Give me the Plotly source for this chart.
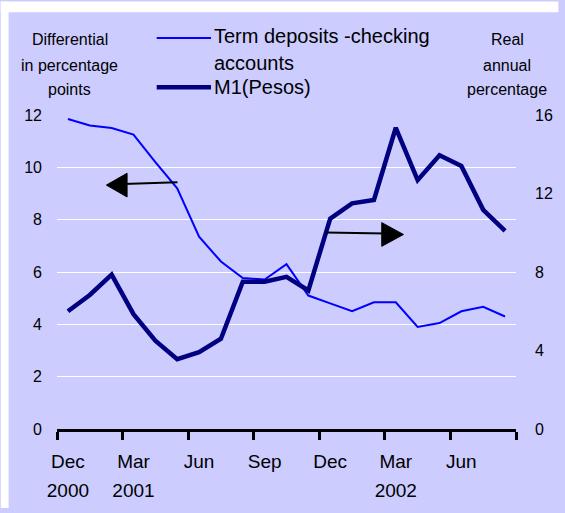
import plotly.graph_objects as go

# ---- data ----
months = ["Dec 2000", "Jan 2001", "Feb 2001", "Mar 2001", "Apr 2001", "May 2001", "Jun 2001",
          "Jul 2001", "Aug 2001", "Sep 2001", "Oct 2001", "Nov 2001", "Dec 2001", "Jan 2002",
          "Feb 2002", "Mar 2002", "Apr 2002", "May 2002", "Jun 2002", "Jul 2002", "Aug 2002"]
term_minus_checking = [11.85, 11.6, 11.5, 11.25, 10.2, 9.2, 7.35, 6.4, 5.77, 5.71, 6.3,
                       5.1, 4.8, 4.5, 4.84, 4.84, 3.9, 4.05, 4.5, 4.67, 4.3]
m1_pesos = [6.0, 6.83, 7.87, 5.85, 4.5, 3.56, 3.92, 4.6, 7.5, 7.5, 7.75,
            7.06, 10.72, 11.5, 11.67, 15.35, 12.68, 13.95, 13.4, 11.17, 10.1]
month_labels = ["Dec", "Mar", "Jun", "Sep", "Dec", "Mar", "Jun"]
month_pos = [0, 3, 6, 9, 12, 15, 18]
year_labels = ["2000", "2001", "2002"]
year_pos = [0, 3, 15]
left_ticks = [0, 2, 4, 6, 8, 10, 12]
right_ticks = [0, 4, 8, 12, 16]

idx = list(range(len(months)))
boundaries = [i - 0.5 for i in range(0, len(months) + 1, 3)]

W, H = 565, 513
L, R, T, B = 57, 522, 115, 433
FONT = "Liberation Sans, Arial, sans-serif"
BG = "#CCCCFF"


def px(x):
    return (x - L) / (R - L)


def py(y):
    return (B - y) / (B - T)


fig = go.Figure()
fig.add_trace(go.Scatter(x=idx, y=term_minus_checking, mode="lines",
                         line=dict(color="#0000FF", width=2),
                         name="Term deposits -checking accounts", showlegend=False,
                         xaxis="x", yaxis="y", hoverinfo="skip"))
fig.add_trace(go.Scatter(x=idx, y=m1_pesos, mode="lines",
                         line=dict(color="#000080", width=4.5),
                         name="M1(Pesos)", showlegend=False,
                         xaxis="x", yaxis="y2", hoverinfo="skip"))
# empty traces to register label axes
fig.add_trace(go.Scatter(x=[], y=[], xaxis="x2", yaxis="y", showlegend=False))
fig.add_trace(go.Scatter(x=[], y=[], xaxis="x3", yaxis="y", showlegend=False))

xr = [-0.5, len(months) - 0.5]
fig.update_layout(
    width=W, height=H, autosize=False,
    margin=dict(l=L, r=W - R, t=T, b=H - B),
    paper_bgcolor=BG, plot_bgcolor=BG,
    font=dict(family=FONT, color="black"),
    showlegend=False,
    dragmode=False,
    xaxis=dict(range=xr, tickmode="array", tickvals=boundaries, ticktext=[""] * len(boundaries),
               ticks="outside", ticklen=8, tickwidth=3, tickcolor="black",
               showline=True, linecolor="black", linewidth=3, fixedrange=True,
               showgrid=False, zeroline=False, showticklabels=False),
    xaxis2=dict(range=xr, overlaying="x", anchor="y", side="bottom", fixedrange=True,
                tickmode="array", tickvals=month_pos, ticktext=month_labels,
                ticks="", showline=False, showgrid=False, zeroline=False,
                tickfont=dict(size=19), ticklabelstandoff=19),
    xaxis3=dict(range=xr, overlaying="x", anchor="y", side="bottom", fixedrange=True,
                tickmode="array", tickvals=year_pos, ticktext=year_labels,
                ticks="", showline=False, showgrid=False, zeroline=False,
                tickfont=dict(size=19), ticklabelstandoff=48),
    yaxis=dict(range=[0, 12], tickmode="array", tickvals=left_ticks, fixedrange=True,
               showgrid=True, gridcolor="white", gridwidth=1, zeroline=False,
               ticks="", showline=False, tickfont=dict(size=16), ticklabelstandoff=14),
    yaxis2=dict(range=[0, 16], tickmode="array", tickvals=right_ticks, fixedrange=True,
                overlaying="y", side="right", anchor="x",
                showgrid=False, zeroline=False, ticks="", showline=False,
                tickfont=dict(size=16), ticklabelstandoff=18),
)

shapes = [
    dict(type="rect", xref="paper", yref="paper", x0=px(0), x1=px(W), y0=py(11), y1=py(0),
         fillcolor="white", line=dict(width=0), layer="above"),
    dict(type="rect", xref="paper", yref="paper", x0=px(0), x1=px(8), y0=py(H), y1=py(0),
         fillcolor="white", line=dict(width=0), layer="above"),
    # legend samples
    dict(type="line", xref="paper", yref="paper", x0=px(158), x1=px(213), y0=py(37), y1=py(37),
         line=dict(color="#0000FF", width=2)),
    dict(type="line", xref="paper", yref="paper", x0=px(158), x1=px(213), y0=py(87), y1=py(87),
         line=dict(color="#000080", width=4.5)),
    # left-pointing arrow
    dict(type="line", xref="paper", yref="paper", x0=px(179), x1=px(124), y0=py(183), y1=py(185),
         line=dict(color="black", width=2)),
    dict(type="path", xref="paper", yref="paper",
         path=f"M {px(107)},{py(186)} L {px(128)},{py(174)} L {px(128)},{py(198)} Z",
         fillcolor="black", line=dict(color="black", width=1)),
    # right-pointing arrow
    dict(type="line", xref="paper", yref="paper", x0=px(329), x1=px(390), y0=py(234), y1=py(235),
         line=dict(color="black", width=2)),
    dict(type="path", xref="paper", yref="paper",
         path=f"M {px(408)},{py(236)} L {px(386)},{py(224)} L {px(386)},{py(248)} Z",
         fillcolor="black", line=dict(color="black", width=1)),
]
fig.update_layout(shapes=shapes)

ann = []


def text(t, x, y, size, xanchor="center"):
    ann.append(dict(text=t, xref="paper", yref="paper", x=px(x), y=py(y), showarrow=False,
                    xanchor=xanchor, yanchor="middle", font=dict(size=size, family=FONT)))


text("Differential", 70, 39, 16)
text("in percentage", 70, 65, 16)
text("points", 70, 89, 16)
text("Real", 513, 39, 16)
text("annual", 513, 65, 16)
text("percentage", 513, 89, 16)
text("Term deposits -checking", 214, 35, 20, "left")
text("accounts", 214, 62, 20, "left")
text("M1(Pesos)", 214, 87, 20, "left")
fig.update_layout(annotations=ann)

fig.write_html(
    "out.html",
    config={"displayModeBar": False, "responsive": False, "staticPlot": True},
    post_script="document.body.style.margin='0px';document.body.style.overflow='hidden';",
)
